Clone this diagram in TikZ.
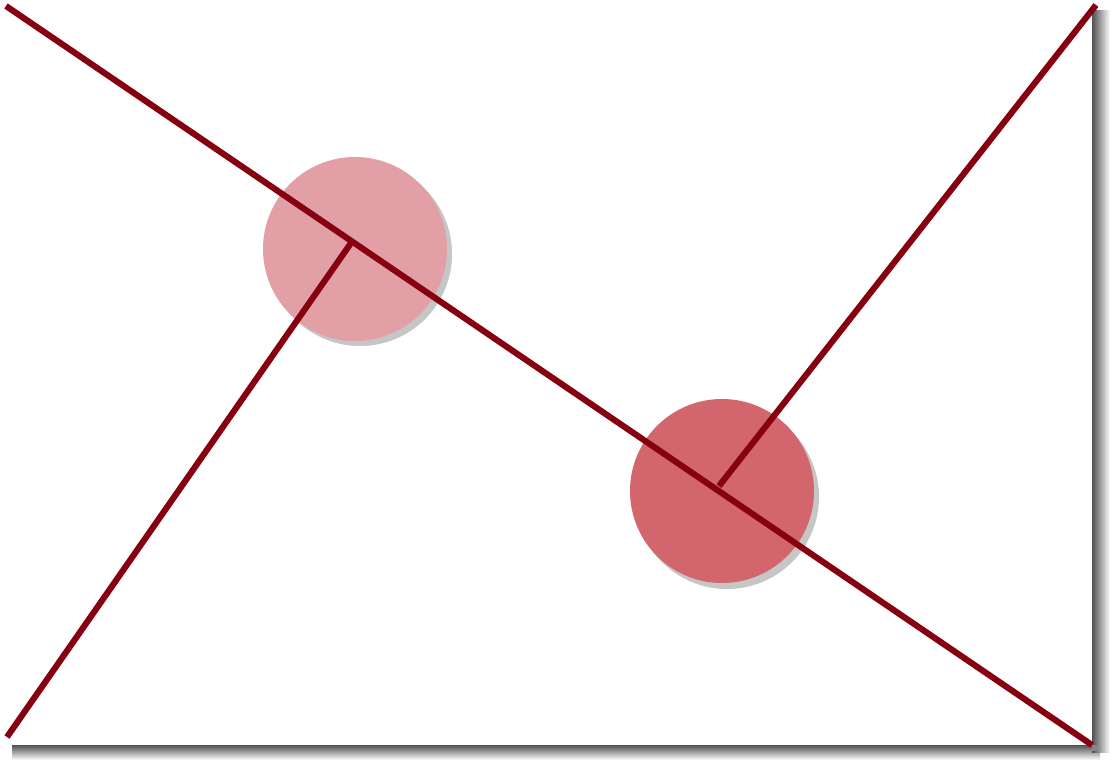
\documentclass[tikz,border=0pt]{standalone}
\usetikzlibrary{calc}
\definecolor{linered}{RGB}{135,0,15}
\definecolor{pinklight}{RGB}{226,160,166}
\definecolor{pinkdark}{RGB}{210,102,108}
\definecolor{shadowgray}{RGB}{80,80,80}
\tikzset{
  conn/.style={draw=linered, line width=4.6pt, line cap=butt},
  blob/.style={circle, minimum size=138pt, inner sep=0pt},
}
\begin{document}
\begin{tikzpicture}[x=0.75pt,y=-0.75pt]
\useasboundingbox (0,0) rectangle (1116,761);
\fill[white] (0,0) rectangle (1116,761);
% frame shadow
\shade[top color=shadowgray, bottom color=white] (12,745) rectangle (1100,760);
\shade[left color=shadowgray, right color=white] (1092,10) rectangle (1110,752);
\fill[shadowgray!70] (1092,745) rectangle (1098,751);
\fill[white] (0,0) rectangle (1092,745);
% circle shadows
\foreach \o in {0.10,0.08,0.06} {
  \fill[black, opacity=\o] (360,254) circle (92);
  \fill[black, opacity=\o] (727,497) circle (92);
}
\node[blob, fill=pinklight] (c1) at (355,249) {};
\node[blob, fill=pinkdark] (c2) at (722,491) {};
\coordinate (j1) at (351,243);
\coordinate (j2) at (719,486);
\coordinate (tl) at (6,6);
\coordinate (br) at (1092,745);
\coordinate (bl) at (7,737);
\coordinate (tr) at (1096,5);
\draw[conn] (tl) -- (br);
\draw[conn] (bl) -- (j1);
\draw[conn] (j2) -- (tr);
\end{tikzpicture}
\end{document}
